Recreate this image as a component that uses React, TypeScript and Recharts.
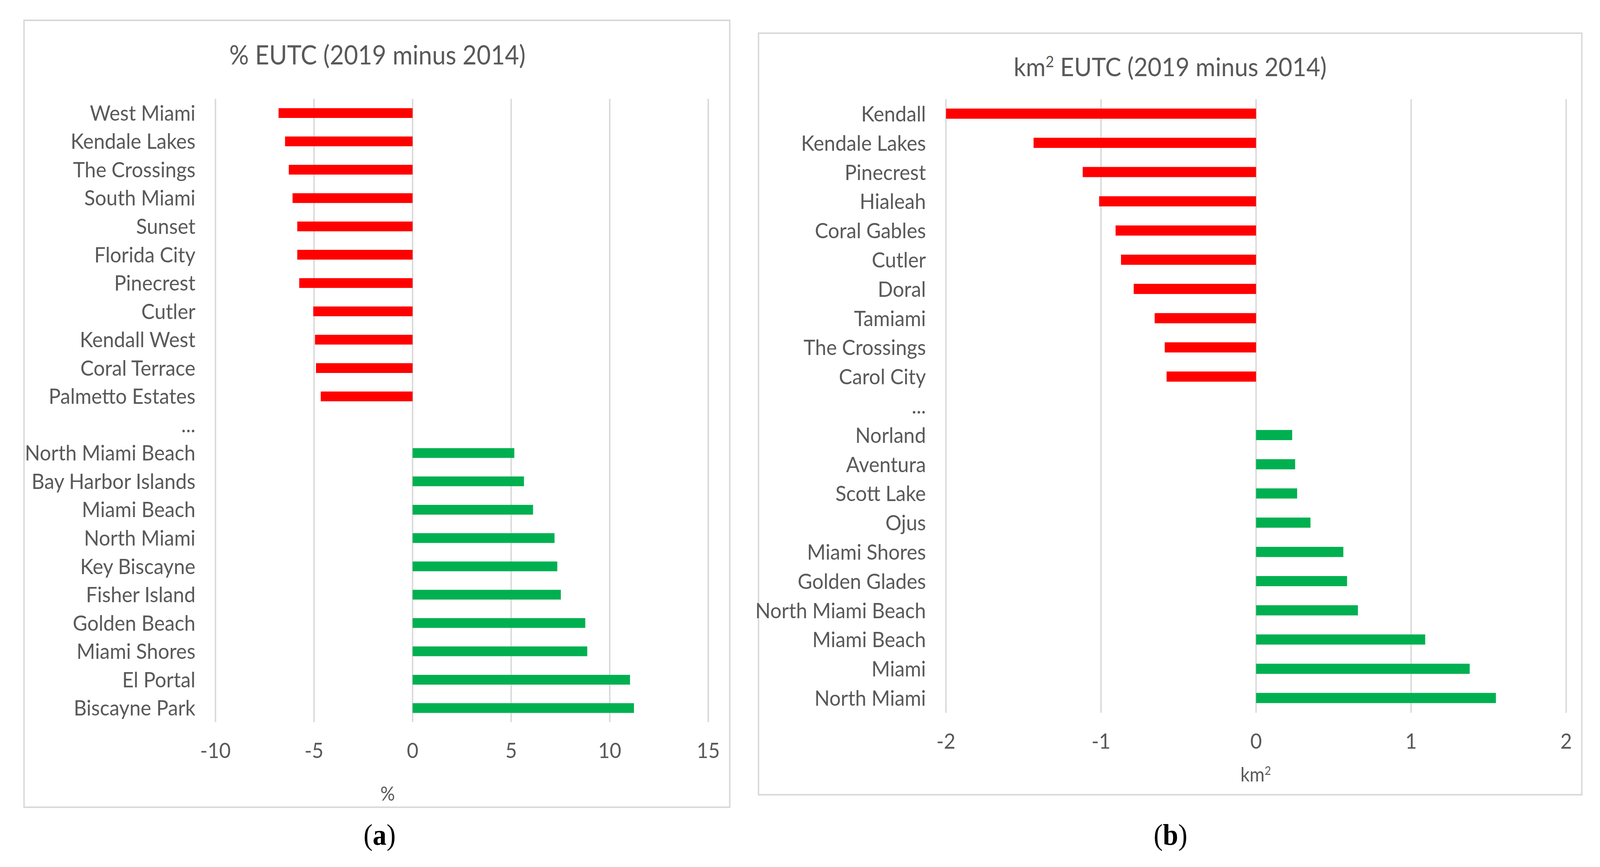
import React from 'react';
import { BarChart, Bar, XAxis, YAxis, CartesianGrid, Cell } from 'recharts';

const pctCategories = [
  'West Miami', 'Kendale Lakes', 'The Crossings', 'South Miami', 'Sunset', 'Florida City',
  'Pinecrest', 'Cutler', 'Kendall West', 'Coral Terrace', 'Palmetto Estates', '...',
  'North Miami Beach', 'Bay Harbor Islands', 'Miami Beach', 'North Miami', 'Key Biscayne',
  'Fisher Island', 'Golden Beach', 'Miami Shores', 'El Portal', 'Biscayne Park',
];
const pctValues = [
  -6.8, -6.47, -6.28, -6.09, -5.85, -5.85, -5.75, -5.04, -4.95, -4.9, -4.66, null,
  5.16, 5.65, 6.11, 7.2, 7.34, 7.52, 8.76, 8.86, 11.03, 11.23,
];
const pctTicks = [-10, -5, 0, 5, 10, 15];

const kmCategories = [
  'Kendall', 'Kendale Lakes', 'Pinecrest', 'Hialeah', 'Coral Gables', 'Cutler', 'Doral',
  'Tamiami', 'The Crossings', 'Carol City', '...', 'Norland', 'Aventura', 'Scott Lake', 'Ojus',
  'Miami Shores', 'Golden Glades', 'North Miami Beach', 'Miami Beach', 'Miami', 'North Miami',
];
const kmValues = [
  -2.0, -1.435, -1.118, -1.012, -0.906, -0.871, -0.789, -0.654, -0.589, -0.577, null,
  0.233, 0.252, 0.265, 0.351, 0.563, 0.587, 0.657, 1.091, 1.378, 1.547,
];
const kmTicks = [-2, -1, 0, 1, 2];

const RED = '#FF0000';
const GREEN = '#00B050';
const GRID = '#D9D9D9';
const TEXT = '#595959';
const FONT = 'Lato, "Open Sans", sans-serif';

const DESIGN_W = 4396;
const DESIGN_H = 2220;

const pctData = pctCategories.map((name, i) => ({ name, value: pctValues[i] }));
const kmData = kmCategories.map((name, i) => ({ name, value: kmValues[i] }));

const tickStyle = { fill: TEXT, fontSize: 55, fontFamily: FONT };

function Panel(props: {
  data: { name: string; value: number | null }[];
  ticks: number[];
  left: number;
  width: number;
  yAxisWidth: number;
  marginRight: number;
  marginTop: number;
  plotBottom: number;
  barSize: number;
}) {
  const H = 2100;
  const axisH = 100;
  return (
    <div style={{ position: 'absolute', left: props.left, top: 0 }}>
      <BarChart
        width={props.width}
        height={H}
        data={props.data}
        layout="vertical"
        margin={{ top: props.marginTop, right: props.marginRight, left: 0, bottom: H - props.plotBottom - axisH }}
      >
        <CartesianGrid horizontal={false} vertical={true} stroke={GRID} strokeWidth={4} />
        <XAxis
          type="number"
          domain={[props.ticks[0], props.ticks[props.ticks.length - 1]]}
          ticks={props.ticks}
          interval={0}
          axisLine={false}
          tickLine={false}
          tickSize={0}
          tickMargin={53}
          height={axisH}
          tick={tickStyle}
          allowDataOverflow={true}
        />
        <YAxis
          type="category"
          dataKey="name"
          interval={0}
          axisLine={false}
          tickLine={false}
          tickSize={0}
          tickMargin={55}
          width={props.yAxisWidth}
          tick={tickStyle}
        />
        <Bar dataKey="value" barSize={props.barSize} isAnimationActive={false}>
          {props.data.map((d, i) => (
            <Cell key={i} fill={d.value !== null && d.value < 0 ? RED : GREEN} />
          ))}
        </Bar>
      </BarChart>
    </div>
  );
}

const abs = (x: number, y: number, extra: React.CSSProperties = {}): React.CSSProperties => ({
  position: 'absolute',
  left: x,
  top: y,
  transform: 'translate(-50%, -50%)',
  whiteSpace: 'nowrap',
  lineHeight: 1,
  ...extra,
});

export default function App() {
  const vw = typeof window !== 'undefined' ? window.innerWidth : DESIGN_W;
  const sx = Math.min(1, vw / DESIGN_W);
  return (
    <div
      style={{
        position: 'absolute',
        left: 0,
        top: 0,
        width: DESIGN_W,
        height: DESIGN_H,
        background: '#fff',
        fontFamily: FONT,
        color: TEXT,
        overflow: 'hidden',
        transform: `scaleX(${sx})`,
        transformOrigin: '0 0',
      }}
    >
      <div
        style={{
          position: 'absolute',
          left: 64,
          top: 50,
          width: 1943,
          height: 2019,
          border: `4px solid ${GRID}`,
          boxSizing: 'border-box',
        }}
      />
      <div
        style={{
          position: 'absolute',
          left: 2082,
          top: 83,
          width: 2266,
          height: 1954,
          border: `4px solid ${GRID}`,
          boxSizing: 'border-box',
        }}
      />

      <Panel
        data={pctData}
        ticks={pctTicks}
        left={0}
        width={2000}
        yAxisWidth={592}
        marginRight={54}
        marginTop={253}
        plotBottom={1849}
        barSize={25}
      />
      <Panel
        data={kmData}
        ticks={kmTicks}
        left={2050}
        width={2346}
        yAxisWidth={549}
        marginRight={93}
        marginTop={254}
        plotBottom={1825}
        barSize={26}
      />

      <div style={abs(1037, 139, { fontSize: 67 })}>% EUTC (2019 minus 2014)</div>
      <div style={abs(3215, 170, { fontSize: 66 })}>
        km<sup style={{ fontSize: 40, verticalAlign: 'top', lineHeight: 1 }}>2</sup> EUTC (2019 minus 2014)
      </div>

      <div style={abs(1065, 2031, { fontSize: 50 })}>%</div>
      <div style={abs(3450, 1982, { fontSize: 50 })}>
        km<sup style={{ fontSize: 30, verticalAlign: 'top', lineHeight: 1 }}>2</sup>
      </div>

      <div style={abs(1043, 2137, { fontSize: 76, fontFamily: '"Liberation Serif", "DejaVu Serif", serif', color: '#000' })}>
        (<b>a</b>)
      </div>
      <div style={abs(3216, 2137, { fontSize: 76, fontFamily: '"Liberation Serif", "DejaVu Serif", serif', color: '#000' })}>
        (<b>b</b>)
      </div>
    </div>
  );
}
